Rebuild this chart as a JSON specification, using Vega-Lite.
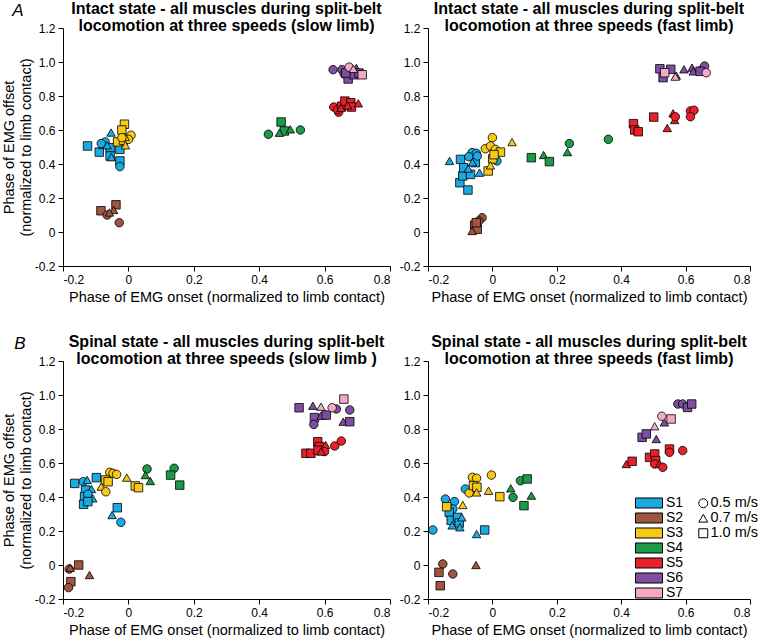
{
 "$schema": "https://vega.github.io/schema/vega-lite/v6.json",
 "padding": {"left": 1, "top": 1, "right": 2, "bottom": 2},
 "background": "white",
 "datasets": {"pts": [
  {"p":"A1","s":"S1","v":"1.0 m/s","x":-0.125,"y":0.506},
  {"p":"A1","s":"S1","v":"1.0 m/s","x":-0.089,"y":0.47},
  {"p":"A1","s":"S1","v":"1.0 m/s","x":-0.077,"y":0.516},
  {"p":"A1","s":"S1","v":"1.0 m/s","x":-0.056,"y":0.496},
  {"p":"A1","s":"S1","v":"1.0 m/s","x":-0.056,"y":0.447},
  {"p":"A1","s":"S1","v":"1.0 m/s","x":-0.026,"y":0.486},
  {"p":"A1","s":"S1","v":"1.0 m/s","x":-0.026,"y":0.418},
  {"p":"A1","s":"S1","v":"0.5 m/s","x":-0.026,"y":0.385},
  {"p":"A1","s":"S1","v":"0.7 m/s","x":-0.053,"y":0.585},
  {"p":"A1","s":"S1","v":"0.5 m/s","x":-0.071,"y":0.53},
  {"p":"A1","s":"S1","v":"0.7 m/s","x":-0.052,"y":0.44},
  {"p":"A1","s":"S1","v":"0.5 m/s","x":-0.083,"y":0.52},
  {"p":"A1","s":"S1","v":"0.7 m/s","x":-0.065,"y":0.51},
  {"p":"A1","s":"S2","v":"1.0 m/s","x":-0.084,"y":0.125},
  {"p":"A1","s":"S2","v":"1.0 m/s","x":-0.038,"y":0.16},
  {"p":"A1","s":"S2","v":"0.5 m/s","x":-0.065,"y":0.10},
  {"p":"A1","s":"S2","v":"0.7 m/s","x":-0.045,"y":0.13},
  {"p":"A1","s":"S2","v":"0.7 m/s","x":-0.058,"y":0.115},
  {"p":"A1","s":"S2","v":"0.5 m/s","x":-0.028,"y":0.055},
  {"p":"A1","s":"S3","v":"1.0 m/s","x":-0.012,"y":0.634},
  {"p":"A1","s":"S3","v":"1.0 m/s","x":-0.02,"y":0.60},
  {"p":"A1","s":"S3","v":"1.0 m/s","x":-0.033,"y":0.53},
  {"p":"A1","s":"S3","v":"1.0 m/s","x":-0.015,"y":0.54},
  {"p":"A1","s":"S3","v":"0.5 m/s","x":0.008,"y":0.569},
  {"p":"A1","s":"S3","v":"0.5 m/s","x":0.0,"y":0.545},
  {"p":"A1","s":"S3","v":"0.7 m/s","x":-0.009,"y":0.51},
  {"p":"A1","s":"S3","v":"0.7 m/s","x":-0.01,"y":0.56},
  {"p":"A1","s":"S3","v":"0.5 m/s","x":-0.02,"y":0.555},
  {"p":"A1","s":"S4","v":"0.5 m/s","x":0.428,"y":0.575},
  {"p":"A1","s":"S4","v":"1.0 m/s","x":0.467,"y":0.647},
  {"p":"A1","s":"S4","v":"1.0 m/s","x":0.477,"y":0.594},
  {"p":"A1","s":"S4","v":"0.7 m/s","x":0.462,"y":0.584},
  {"p":"A1","s":"S4","v":"0.7 m/s","x":0.495,"y":0.604},
  {"p":"A1","s":"S4","v":"0.5 m/s","x":0.526,"y":0.60},
  {"p":"A1","s":"S5","v":"0.5 m/s","x":0.628,"y":0.735},
  {"p":"A1","s":"S5","v":"0.5 m/s","x":0.643,"y":0.705},
  {"p":"A1","s":"S5","v":"0.5 m/s","x":0.64,"y":0.72},
  {"p":"A1","s":"S5","v":"1.0 m/s","x":0.652,"y":0.74},
  {"p":"A1","s":"S5","v":"1.0 m/s","x":0.662,"y":0.77},
  {"p":"A1","s":"S5","v":"1.0 m/s","x":0.68,"y":0.76},
  {"p":"A1","s":"S5","v":"1.0 m/s","x":0.682,"y":0.735},
  {"p":"A1","s":"S5","v":"0.7 m/s","x":0.703,"y":0.757},
  {"p":"A1","s":"S5","v":"0.7 m/s","x":0.67,"y":0.745},
  {"p":"A1","s":"S5","v":"0.7 m/s","x":0.65,"y":0.73},
  {"p":"A1","s":"S6","v":"0.5 m/s","x":0.626,"y":0.955},
  {"p":"A1","s":"S6","v":"0.5 m/s","x":0.653,"y":0.955},
  {"p":"A1","s":"S6","v":"0.5 m/s","x":0.66,"y":0.93},
  {"p":"A1","s":"S6","v":"0.7 m/s","x":0.697,"y":0.965},
  {"p":"A1","s":"S6","v":"0.7 m/s","x":0.70,"y":0.94},
  {"p":"A1","s":"S6","v":"1.0 m/s","x":0.672,"y":0.90},
  {"p":"A1","s":"S6","v":"1.0 m/s","x":0.69,"y":0.925},
  {"p":"A1","s":"S6","v":"1.0 m/s","x":0.705,"y":0.935},
  {"p":"A1","s":"S6","v":"1.0 m/s","x":0.665,"y":0.935},
  {"p":"A1","s":"S7","v":"0.5 m/s","x":0.675,"y":0.97},
  {"p":"A1","s":"S7","v":"1.0 m/s","x":0.715,"y":0.925},
  {"p":"A1","s":"S7","v":"0.7 m/s","x":0.688,"y":0.96},

  {"p":"A2","s":"S1","v":"0.7 m/s","x":-0.133,"y":0.418},
  {"p":"A2","s":"S1","v":"1.0 m/s","x":-0.099,"y":0.427},
  {"p":"A2","s":"S1","v":"1.0 m/s","x":-0.101,"y":0.29},
  {"p":"A2","s":"S1","v":"1.0 m/s","x":-0.092,"y":0.33},
  {"p":"A2","s":"S1","v":"1.0 m/s","x":-0.076,"y":0.247},
  {"p":"A2","s":"S1","v":"1.0 m/s","x":-0.089,"y":0.378},
  {"p":"A2","s":"S1","v":"1.0 m/s","x":-0.068,"y":0.339},
  {"p":"A2","s":"S1","v":"1.0 m/s","x":-0.053,"y":0.408},
  {"p":"A2","s":"S1","v":"0.5 m/s","x":-0.063,"y":0.467},
  {"p":"A2","s":"S1","v":"0.5 m/s","x":-0.073,"y":0.443},
  {"p":"A2","s":"S1","v":"0.5 m/s","x":-0.05,"y":0.463},
  {"p":"A2","s":"S1","v":"0.5 m/s","x":-0.047,"y":0.447},
  {"p":"A2","s":"S1","v":"0.7 m/s","x":-0.075,"y":0.373},
  {"p":"A2","s":"S1","v":"0.7 m/s","x":-0.04,"y":0.349},
  {"p":"A2","s":"S1","v":"0.7 m/s","x":-0.062,"y":0.41},
  {"p":"A2","s":"S1","v":"0.5 m/s","x":0.014,"y":0.418},
  {"p":"A2","s":"S2","v":"0.5 m/s","x":-0.032,"y":0.084},
  {"p":"A2","s":"S2","v":"0.5 m/s","x":-0.042,"y":0.065},
  {"p":"A2","s":"S2","v":"1.0 m/s","x":-0.055,"y":0.04},
  {"p":"A2","s":"S2","v":"1.0 m/s","x":-0.047,"y":0.016},
  {"p":"A2","s":"S2","v":"1.0 m/s","x":-0.05,"y":0.055},
  {"p":"A2","s":"S2","v":"0.7 m/s","x":-0.063,"y":0.006},
  {"p":"A2","s":"S3","v":"0.5 m/s","x":0.0,"y":0.555},
  {"p":"A2","s":"S3","v":"0.5 m/s","x":-0.022,"y":0.49},
  {"p":"A2","s":"S3","v":"0.5 m/s","x":-0.006,"y":0.506},
  {"p":"A2","s":"S3","v":"0.5 m/s","x":0.009,"y":0.486},
  {"p":"A2","s":"S3","v":"0.7 m/s","x":0.061,"y":0.529},
  {"p":"A2","s":"S3","v":"1.0 m/s","x":0.025,"y":0.47},
  {"p":"A2","s":"S3","v":"1.0 m/s","x":0.001,"y":0.43},
  {"p":"A2","s":"S3","v":"1.0 m/s","x":0.005,"y":0.455},
  {"p":"A2","s":"S3","v":"1.0 m/s","x":-0.013,"y":0.359},
  {"p":"A2","s":"S3","v":"0.7 m/s","x":-0.006,"y":0.392},
  {"p":"A2","s":"S4","v":"1.0 m/s","x":0.121,"y":0.437},
  {"p":"A2","s":"S4","v":"0.7 m/s","x":0.159,"y":0.453},
  {"p":"A2","s":"S4","v":"1.0 m/s","x":0.177,"y":0.414},
  {"p":"A2","s":"S4","v":"0.7 m/s","x":0.233,"y":0.47},
  {"p":"A2","s":"S4","v":"0.5 m/s","x":0.239,"y":0.52},
  {"p":"A2","s":"S4","v":"0.5 m/s","x":0.36,"y":0.545},
  {"p":"A2","s":"S5","v":"1.0 m/s","x":0.438,"y":0.637},
  {"p":"A2","s":"S5","v":"1.0 m/s","x":0.442,"y":0.60},
  {"p":"A2","s":"S5","v":"1.0 m/s","x":0.453,"y":0.59},
  {"p":"A2","s":"S5","v":"1.0 m/s","x":0.501,"y":0.676},
  {"p":"A2","s":"S5","v":"0.7 m/s","x":0.543,"y":0.612},
  {"p":"A2","s":"S5","v":"0.7 m/s","x":0.561,"y":0.698},
  {"p":"A2","s":"S5","v":"0.7 m/s","x":0.566,"y":0.659},
  {"p":"A2","s":"S5","v":"0.5 m/s","x":0.568,"y":0.678},
  {"p":"A2","s":"S5","v":"0.5 m/s","x":0.615,"y":0.712},
  {"p":"A2","s":"S5","v":"0.5 m/s","x":0.626,"y":0.716},
  {"p":"A2","s":"S5","v":"0.5 m/s","x":0.615,"y":0.678},
  {"p":"A2","s":"S6","v":"1.0 m/s","x":0.52,"y":0.96},
  {"p":"A2","s":"S6","v":"1.0 m/s","x":0.53,"y":0.908},
  {"p":"A2","s":"S6","v":"1.0 m/s","x":0.554,"y":0.957},
  {"p":"A2","s":"S6","v":"0.7 m/s","x":0.571,"y":0.92},
  {"p":"A2","s":"S6","v":"0.7 m/s","x":0.595,"y":0.957},
  {"p":"A2","s":"S6","v":"0.7 m/s","x":0.62,"y":0.967},
  {"p":"A2","s":"S6","v":"0.7 m/s","x":0.624,"y":0.945},
  {"p":"A2","s":"S6","v":"0.5 m/s","x":0.648,"y":0.951},
  {"p":"A2","s":"S6","v":"0.5 m/s","x":0.659,"y":0.976},
  {"p":"A2","s":"S6","v":"1.0 m/s","x":0.645,"y":0.945},
  {"p":"A2","s":"S7","v":"1.0 m/s","x":0.535,"y":0.937},
  {"p":"A2","s":"S7","v":"0.7 m/s","x":0.568,"y":0.914},
  {"p":"A2","s":"S7","v":"0.5 m/s","x":0.664,"y":0.937},

  {"p":"B1","s":"S1","v":"1.0 m/s","x":-0.164,"y":0.48},
  {"p":"B1","s":"S1","v":"1.0 m/s","x":-0.098,"y":0.514},
  {"p":"B1","s":"S1","v":"0.5 m/s","x":-0.138,"y":0.49},
  {"p":"B1","s":"S1","v":"0.7 m/s","x":-0.126,"y":0.50},
  {"p":"B1","s":"S1","v":"1.0 m/s","x":-0.131,"y":0.441},
  {"p":"B1","s":"S1","v":"0.7 m/s","x":-0.113,"y":0.447},
  {"p":"B1","s":"S1","v":"1.0 m/s","x":-0.134,"y":0.402},
  {"p":"B1","s":"S1","v":"0.5 m/s","x":-0.124,"y":0.416},
  {"p":"B1","s":"S1","v":"0.7 m/s","x":-0.109,"y":0.392},
  {"p":"B1","s":"S1","v":"1.0 m/s","x":-0.137,"y":0.357},
  {"p":"B1","s":"S1","v":"1.0 m/s","x":-0.124,"y":0.373},
  {"p":"B1","s":"S1","v":"1.0 m/s","x":-0.034,"y":0.337},
  {"p":"B1","s":"S1","v":"0.7 m/s","x":-0.05,"y":0.294},
  {"p":"B1","s":"S1","v":"0.5 m/s","x":-0.023,"y":0.251},
  {"p":"B1","s":"S2","v":"1.0 m/s","x":-0.152,"y":0.0},
  {"p":"B1","s":"S2","v":"0.5 m/s","x":-0.181,"y":-0.024},
  {"p":"B1","s":"S2","v":"0.7 m/s","x":-0.178,"y":-0.016},
  {"p":"B1","s":"S2","v":"1.0 m/s","x":-0.176,"y":-0.098},
  {"p":"B1","s":"S2","v":"0.5 m/s","x":-0.183,"y":-0.133},
  {"p":"B1","s":"S2","v":"0.7 m/s","x":-0.119,"y":-0.059},
  {"p":"B1","s":"S3","v":"0.5 m/s","x":-0.057,"y":0.545},
  {"p":"B1","s":"S3","v":"0.5 m/s","x":-0.047,"y":0.539},
  {"p":"B1","s":"S3","v":"0.5 m/s","x":-0.036,"y":0.533},
  {"p":"B1","s":"S3","v":"1.0 m/s","x":-0.07,"y":0.50},
  {"p":"B1","s":"S3","v":"1.0 m/s","x":-0.062,"y":0.49},
  {"p":"B1","s":"S3","v":"0.7 m/s","x":-0.083,"y":0.461},
  {"p":"B1","s":"S3","v":"0.5 m/s","x":-0.069,"y":0.431},
  {"p":"B1","s":"S3","v":"0.7 m/s","x":-0.005,"y":0.514},
  {"p":"B1","s":"S3","v":"1.0 m/s","x":0.021,"y":0.465},
  {"p":"B1","s":"S3","v":"1.0 m/s","x":0.031,"y":0.455},
  {"p":"B1","s":"S4","v":"0.5 m/s","x":0.057,"y":0.565},
  {"p":"B1","s":"S4","v":"0.7 m/s","x":0.052,"y":0.529},
  {"p":"B1","s":"S4","v":"0.7 m/s","x":0.067,"y":0.494},
  {"p":"B1","s":"S4","v":"0.5 m/s","x":0.14,"y":0.569},
  {"p":"B1","s":"S4","v":"1.0 m/s","x":0.129,"y":0.529},
  {"p":"B1","s":"S4","v":"1.0 m/s","x":0.157,"y":0.47},
  {"p":"B1","s":"S5","v":"1.0 m/s","x":0.543,"y":0.657},
  {"p":"B1","s":"S5","v":"1.0 m/s","x":0.558,"y":0.657},
  {"p":"B1","s":"S5","v":"1.0 m/s","x":0.579,"y":0.725},
  {"p":"B1","s":"S5","v":"1.0 m/s","x":0.584,"y":0.696},
  {"p":"B1","s":"S5","v":"1.0 m/s","x":0.58,"y":0.675},
  {"p":"B1","s":"S5","v":"0.7 m/s","x":0.603,"y":0.706},
  {"p":"B1","s":"S5","v":"0.5 m/s","x":0.60,"y":0.667},
  {"p":"B1","s":"S5","v":"0.7 m/s","x":0.589,"y":0.667},
  {"p":"B1","s":"S5","v":"0.5 m/s","x":0.631,"y":0.70},
  {"p":"B1","s":"S5","v":"0.5 m/s","x":0.651,"y":0.729},
  {"p":"B1","s":"S6","v":"1.0 m/s","x":0.522,"y":0.925},
  {"p":"B1","s":"S6","v":"0.7 m/s","x":0.564,"y":0.937},
  {"p":"B1","s":"S6","v":"1.0 m/s","x":0.569,"y":0.867},
  {"p":"B1","s":"S6","v":"0.5 m/s","x":0.567,"y":0.827},
  {"p":"B1","s":"S6","v":"0.7 m/s","x":0.589,"y":0.878},
  {"p":"B1","s":"S6","v":"1.0 m/s","x":0.605,"y":0.882},
  {"p":"B1","s":"S6","v":"0.5 m/s","x":0.636,"y":0.918},
  {"p":"B1","s":"S6","v":"0.5 m/s","x":0.677,"y":0.912},
  {"p":"B1","s":"S6","v":"0.7 m/s","x":0.657,"y":0.843},
  {"p":"B1","s":"S6","v":"1.0 m/s","x":0.677,"y":0.843},
  {"p":"B1","s":"S7","v":"1.0 m/s","x":0.659,"y":0.976},
  {"p":"B1","s":"S7","v":"0.7 m/s","x":0.589,"y":0.931},
  {"p":"B1","s":"S7","v":"0.5 m/s","x":0.623,"y":0.925},

  {"p":"B2","s":"S1","v":"0.5 m/s","x":-0.185,"y":0.206},
  {"p":"B2","s":"S1","v":"0.5 m/s","x":-0.146,"y":0.388},
  {"p":"B2","s":"S1","v":"0.5 m/s","x":-0.118,"y":0.373},
  {"p":"B2","s":"S1","v":"0.5 m/s","x":-0.123,"y":0.33},
  {"p":"B2","s":"S1","v":"0.5 m/s","x":-0.084,"y":0.447},
  {"p":"B2","s":"S1","v":"1.0 m/s","x":-0.134,"y":0.31},
  {"p":"B2","s":"S1","v":"1.0 m/s","x":-0.128,"y":0.263},
  {"p":"B2","s":"S1","v":"1.0 m/s","x":-0.108,"y":0.28},
  {"p":"B2","s":"S1","v":"1.0 m/s","x":-0.103,"y":0.247},
  {"p":"B2","s":"S1","v":"0.7 m/s","x":-0.125,"y":0.233},
  {"p":"B2","s":"S1","v":"0.7 m/s","x":-0.101,"y":0.222},
  {"p":"B2","s":"S1","v":"0.7 m/s","x":-0.095,"y":0.28},
  {"p":"B2","s":"S1","v":"0.7 m/s","x":-0.049,"y":0.182},
  {"p":"B2","s":"S1","v":"1.0 m/s","x":-0.024,"y":0.206},
  {"p":"B2","s":"S2","v":"0.5 m/s","x":-0.154,"y":0.006},
  {"p":"B2","s":"S2","v":"1.0 m/s","x":-0.166,"y":-0.043},
  {"p":"B2","s":"S2","v":"0.5 m/s","x":-0.123,"y":-0.053},
  {"p":"B2","s":"S2","v":"1.0 m/s","x":-0.162,"y":-0.122},
  {"p":"B2","s":"S2","v":"0.7 m/s","x":-0.051,"y":0.0},
  {"p":"B2","s":"S3","v":"1.0 m/s","x":-0.142,"y":0.343},
  {"p":"B2","s":"S3","v":"0.5 m/s","x":-0.062,"y":0.516},
  {"p":"B2","s":"S3","v":"0.5 m/s","x":-0.049,"y":0.51},
  {"p":"B2","s":"S3","v":"0.5 m/s","x":-0.072,"y":0.424},
  {"p":"B2","s":"S3","v":"1.0 m/s","x":-0.059,"y":0.467},
  {"p":"B2","s":"S3","v":"1.0 m/s","x":-0.048,"y":0.457},
  {"p":"B2","s":"S3","v":"0.7 m/s","x":-0.049,"y":0.427},
  {"p":"B2","s":"S3","v":"0.5 m/s","x":-0.003,"y":0.529},
  {"p":"B2","s":"S3","v":"0.7 m/s","x":-0.012,"y":0.437},
  {"p":"B2","s":"S3","v":"1.0 m/s","x":0.023,"y":0.402},
  {"p":"B2","s":"S3","v":"0.7 m/s","x":-0.092,"y":0.353},
  {"p":"B2","s":"S4","v":"0.7 m/s","x":0.057,"y":0.451},
  {"p":"B2","s":"S4","v":"0.5 m/s","x":0.064,"y":0.398},
  {"p":"B2","s":"S4","v":"0.5 m/s","x":0.087,"y":0.496},
  {"p":"B2","s":"S4","v":"1.0 m/s","x":0.108,"y":0.506},
  {"p":"B2","s":"S4","v":"1.0 m/s","x":0.098,"y":0.349},
  {"p":"B2","s":"S4","v":"0.7 m/s","x":0.121,"y":0.408},
  {"p":"B2","s":"S5","v":"0.7 m/s","x":0.416,"y":0.594},
  {"p":"B2","s":"S5","v":"1.0 m/s","x":0.434,"y":0.61},
  {"p":"B2","s":"S5","v":"1.0 m/s","x":0.488,"y":0.633},
  {"p":"B2","s":"S5","v":"1.0 m/s","x":0.504,"y":0.653},
  {"p":"B2","s":"S5","v":"1.0 m/s","x":0.507,"y":0.614},
  {"p":"B2","s":"S5","v":"0.5 m/s","x":0.504,"y":0.594},
  {"p":"B2","s":"S5","v":"0.7 m/s","x":0.519,"y":0.594},
  {"p":"B2","s":"S5","v":"0.5 m/s","x":0.529,"y":0.575},
  {"p":"B2","s":"S5","v":"1.0 m/s","x":0.55,"y":0.682},
  {"p":"B2","s":"S5","v":"0.5 m/s","x":0.55,"y":0.663},
  {"p":"B2","s":"S5","v":"0.5 m/s","x":0.591,"y":0.673},
  {"p":"B2","s":"S6","v":"1.0 m/s","x":0.465,"y":0.751},
  {"p":"B2","s":"S6","v":"1.0 m/s","x":0.478,"y":0.771},
  {"p":"B2","s":"S6","v":"0.7 m/s","x":0.509,"y":0.741},
  {"p":"B2","s":"S6","v":"0.7 m/s","x":0.534,"y":0.839},
  {"p":"B2","s":"S6","v":"0.5 m/s","x":0.576,"y":0.947},
  {"p":"B2","s":"S6","v":"0.5 m/s","x":0.591,"y":0.947},
  {"p":"B2","s":"S6","v":"1.0 m/s","x":0.606,"y":0.927},
  {"p":"B2","s":"S6","v":"1.0 m/s","x":0.619,"y":0.947},
  {"p":"B2","s":"S7","v":"0.5 m/s","x":0.526,"y":0.875},
  {"p":"B2","s":"S7","v":"0.7 m/s","x":0.504,"y":0.816},
  {"p":"B2","s":"S7","v":"1.0 m/s","x":0.555,"y":0.859}
 ]},
 "data": {"name": "pts"},
 "spacing": 30,
 "vconcat": [
  {
   "title": {"text": "A", "anchor": "start", "frame": "bounds", "fontStyle": "italic", "fontWeight": "normal", "fontSize": 17, "offset": 0, "dy": 19, "dx": 11},
   "spacing": 8,
   "hconcat": [
    {
     "width": 327, "height": 238,
     "title": {"text": ["Intact state - all muscles during split-belt", "locomotion at three speeds (slow limb)"]},
     "transform": [{"filter": "datum.p == 'A1'"}],
     "mark": {"type": "point", "filled": false, "fill": "white", "size": 72, "stroke": "black", "strokeWidth": 0.8, "opacity": 1},
     "encoding": {
      "x": {"field": "x", "type": "quantitative", "scale": {"domain": [-0.2, 0.8], "nice": false, "zero": false}, "axis": {"values": [-0.2, 0, 0.2, 0.4, 0.6, 0.8], "title": "Phase of EMG onset (normalized to limb contact)"}},
      "y": {"field": "y", "type": "quantitative", "scale": {"domain": [-0.2, 1.2], "nice": false, "zero": false}, "axis": {"values": [-0.2, 0, 0.2, 0.4, 0.6, 0.8, 1.0, 1.2], "title": ["Phase of EMG offset", "(normalized to limb contact)"]}},
      "fill": {"field": "s", "type": "nominal", "scale": {"domain": ["S1", "S2", "S3", "S4", "S5", "S6", "S7"], "range": ["#1ba9e1", "#a0553f", "#f7c815", "#1c9a4a", "#e8202a", "#7e4fa0", "#f5a9c9"]},
        "legend": {"orient": "none", "legendX": 579, "legendY": 468, "title": null, "symbolType": "M-2.08,-0.77H2.08V0.77H-2.08Z", "symbolSize": 169, "symbolStrokeColor": "black", "symbolStrokeWidth": 1, "symbolOpacity": 1, "labelFontSize": 14, "labelOffset": 10, "rowPadding": -1}},
      "shape": {"field": "v", "type": "nominal", "scale": {"domain": ["0.5 m/s", "0.7 m/s", "1.0 m/s"], "range": ["circle", "triangle-up", "square"]},
        "legend": {"orient": "none", "legendX": 633, "legendY": 468, "title": null, "symbolSize": 80, "symbolFillColor": "white", "symbolStrokeColor": "#555", "symbolStrokeWidth": 1, "symbolOpacity": 1, "labelFontSize": 14.5, "labelOffset": 0, "rowPadding": 0}}
     }
    },
    {
     "width": 322, "height": 238,
     "title": {"text": ["Intact state - all muscles during split-belt", "locomotion at three speeds (fast limb)"]},
     "transform": [{"filter": "datum.p == 'A2'"}],
     "mark": {"type": "point", "filled": false, "fill": "white", "size": 72, "stroke": "black", "strokeWidth": 0.8, "opacity": 1},
     "encoding": {
      "x": {"field": "x", "type": "quantitative", "scale": {"domain": [-0.2, 0.8], "nice": false, "zero": false}, "axis": {"values": [-0.2, 0, 0.2, 0.4, 0.6, 0.8], "title": "Phase of EMG onset (normalized to limb contact)"}},
      "y": {"field": "y", "type": "quantitative", "scale": {"domain": [-0.2, 1.2], "nice": false, "zero": false}, "axis": {"values": [-0.2, 0, 0.2, 0.4, 0.6, 0.8, 1.0, 1.2], "title": null}},
      "fill": {"field": "s", "type": "nominal"},
      "shape": {"field": "v", "type": "nominal"}
     }
    }
   ]
  },
  {
   "title": {"text": "B", "anchor": "start", "frame": "bounds", "fontStyle": "italic", "fontWeight": "normal", "fontSize": 17, "offset": 0, "dy": 19, "dx": 13},
   "spacing": 8,
   "hconcat": [
    {
     "width": 327, "height": 238,
     "title": {"text": ["Spinal state - all muscles during split-belt", "locomotion at three speeds (slow limb )"]},
     "transform": [{"filter": "datum.p == 'B1'"}],
     "mark": {"type": "point", "filled": false, "fill": "white", "size": 72, "stroke": "black", "strokeWidth": 0.8, "opacity": 1},
     "encoding": {
      "x": {"field": "x", "type": "quantitative", "scale": {"domain": [-0.2, 0.8], "nice": false, "zero": false}, "axis": {"values": [-0.2, 0, 0.2, 0.4, 0.6, 0.8], "title": "Phase of EMG onset (normalized to limb contact)"}},
      "y": {"field": "y", "type": "quantitative", "scale": {"domain": [-0.2, 1.2], "nice": false, "zero": false}, "axis": {"values": [-0.2, 0, 0.2, 0.4, 0.6, 0.8, 1.0, 1.2], "title": ["Phase of EMG offset", "(normalized to limb contact)"]}},
      "fill": {"field": "s", "type": "nominal"},
      "shape": {"field": "v", "type": "nominal"}
     }
    },
    {
     "width": 322, "height": 238,
     "title": {"text": ["Spinal state - all muscles during split-belt", "locomotion at three speeds (fast limb)"]},
     "transform": [{"filter": "datum.p == 'B2'"}],
     "mark": {"type": "point", "filled": false, "fill": "white", "size": 72, "stroke": "black", "strokeWidth": 0.8, "opacity": 1},
     "encoding": {
      "x": {"field": "x", "type": "quantitative", "scale": {"domain": [-0.2, 0.8], "nice": false, "zero": false}, "axis": {"values": [-0.2, 0, 0.2, 0.4, 0.6, 0.8], "title": "Phase of EMG onset (normalized to limb contact)"}},
      "y": {"field": "y", "type": "quantitative", "scale": {"domain": [-0.2, 1.2], "nice": false, "zero": false}, "axis": {"values": [-0.2, 0, 0.2, 0.4, 0.6, 0.8, 1.0, 1.2], "title": null}},
      "fill": {"field": "s", "type": "nominal"},
      "shape": {"field": "v", "type": "nominal"}
     }
    }
   ]
  }
 ],
 "config": {
  "font": "Liberation Sans",
  "view": {"stroke": null},
  "title": {"fontSize": 16, "fontWeight": "bold", "lineHeight": 17, "offset": -12, "frame": "group", "anchor": "middle", "color": "black", "font": "Liberation Sans"},
  "axis": {"grid": false, "domainColor": "black", "tickColor": "black", "labelColor": "black", "titleColor": "black", "labelFontSize": 12, "titleFontSize": 14.5, "titleFontWeight": "normal", "tickSize": 5, "labelPadding": 3, "titleLineHeight": 17,
   "labelExpr": "datum.value == 0 ? '0' : (datum.value < 0 ? '-' : '') + format(abs(datum.value), '.1f')"},
  "axisX": {"titlePadding": 5},
  "axisY": {"titlePadding": 1},
  "legend": {"labelColor": "black", "labelFont": "Liberation Sans", "symbolFillColor": "white"}
 }
}
